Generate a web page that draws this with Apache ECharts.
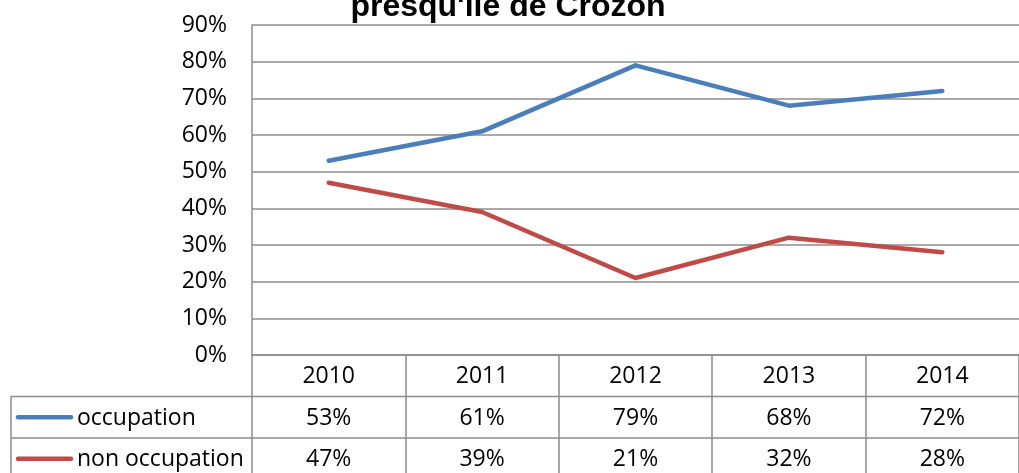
<!DOCTYPE html>
<html><head><meta charset="utf-8">
<script src="https://cdn.jsdelivr.net/npm/echarts@6/dist/echarts.min.js"></script>
<style>html,body{margin:0;padding:0;background:#fff}#c{width:1019px;height:473px}</style>
</head><body><div id="c"></div>
<script>
const years = ['2010', '2011', '2012', '2013', '2014'];
const occupation = [53, 61, 79, 68, 72];
const nonOccupation = [47, 39, 21, 32, 28];
const seriesNames = ['occupation', 'non occupation'];
const titleText = "presqu'île de Crozon";
const yMin = 0, yMax = 90, yStep = 10;

const FONT = '"Open Sans"';
const FS = 23;
const GRID = '#8c8c8c';
const GW = 1.5;
const colors = ['#4a7ebb', '#be4b48'];
const seriesData = [occupation, nonOccupation];

const chart = echarts.init(document.getElementById('c'), null, {renderer: 'canvas'});
chart.setOption({
  animation: false,
  grid: {left: 252, top: 25, width: 777.5, height: 330, containLabel: false},
  xAxis: {
    type: 'category', data: years, boundaryGap: true,
    axisLine: {show: true, lineStyle: {color: GRID, width: GW}},
    axisTick: {show: true, length: 130, lineStyle: {color: GRID, width: GW}},
    axisLabel: {margin: 21, verticalAlign: 'middle', fontFamily: FONT, fontSize: FS, color: '#000'},
    splitLine: {show: false}
  },
  yAxis: {
    type: 'value', min: yMin, max: yMax, interval: yStep,
    axisLine: {show: true, lineStyle: {color: GRID, width: GW}},
    axisTick: {show: false},
    axisLabel: {formatter: '{value}%', margin: 25, fontFamily: FONT, fontSize: FS, color: '#000',
      padding: [4, 0, 0, 0]},
    splitLine: {show: true, lineStyle: {color: GRID, width: GW}}
  },
  series: seriesData.map((d, i) => ({
    type: 'line', name: seriesNames[i], data: d, symbol: 'none',
    lineStyle: {width: 4.5, color: colors[i], cap: 'round', join: 'round'},
    itemStyle: {color: colors[i]}
  }))
});

// data table built from the axis scale
const y0 = chart.convertToPixel({yAxisIndex: 0}, 0);
const rowH = 41.5;
const xs = years.map(c => chart.convertToPixel({xAxisIndex: 0}, c));
const graphics = [];
graphics.push({type: 'text', style: {text: titleText, x: 508, y: 23, align: 'center', verticalAlign: 'bottom',
  font: 'bold 32px "Liberation Sans", Arial, sans-serif', fill: '#000'}});
for (let r = 1; r <= 2; r++) {
  graphics.push({type: 'line', shape: {x1: 11, y1: y0 + rowH * r, x2: 1019, y2: y0 + rowH * r},
    style: {stroke: GRID, lineWidth: GW}});
}
graphics.push({type: 'line', shape: {x1: 11, y1: y0 + rowH, x2: 11, y2: 473}, style: {stroke: GRID, lineWidth: GW}});
seriesData.forEach((d, i) => {
  const cy = y0 + rowH * (i + 1.5);
  graphics.push({type: 'line', shape: {x1: 18, y1: cy, x2: 71, y2: cy},
    style: {stroke: colors[i], lineWidth: 4.5, lineCap: 'round'}});
  graphics.push({type: 'text', style: {text: seriesNames[i], x: 77, y: cy + 1, align: 'left', verticalAlign: 'middle',
    font: FS + 'px ' + FONT, fill: '#000'}});
  d.forEach((v, j) => {
    graphics.push({type: 'text', style: {text: v + '%', x: xs[j], y: cy + 1, align: 'center', verticalAlign: 'middle',
      font: FS + 'px ' + FONT, fill: '#000'}});
  });
});
chart.setOption({graphic: graphics});
</script></body></html>
